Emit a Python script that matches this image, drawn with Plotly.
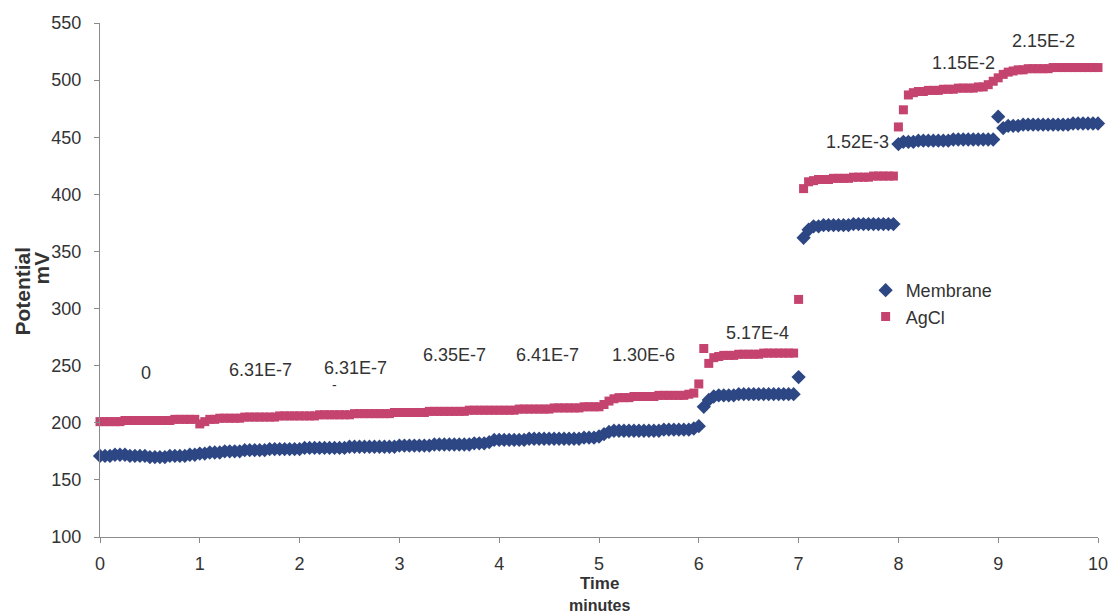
import plotly.graph_objects as go

# sampling grid: one reading every 0.05 min from 0 to 10 min
time_min = [round(i * 0.05, 2) for i in range(201)]

membrane_mv = [
    171, 171, 171, 172, 172, 172, 171, 171, 171, 171, 170, 170, 170, 170, 171, 171, 171, 171, 172, 172,
    173, 173, 174, 174, 174, 175, 175, 175, 175, 176, 176, 176, 176, 176, 177, 177, 177, 177, 177, 177,
    177, 178, 178, 178, 178, 178, 178, 178, 178, 178, 179, 179, 179, 179, 179, 179, 179, 179, 179, 179,
    180, 180, 180, 180, 180, 180, 180, 181, 181, 181, 181, 181, 181, 181, 181, 182, 182, 182, 183, 185,
    185, 185, 185, 185, 185, 185, 186, 186, 186, 186, 186, 186, 186, 186, 186, 186, 186, 187, 187, 187,
    188, 190, 192, 193, 193, 193, 193, 193, 193, 193, 193, 193, 193, 194, 194, 194, 194, 194, 194, 195,
    197, 214, 220, 223, 224, 224, 224, 224, 225, 225, 225, 225, 225, 225, 225, 225, 225, 225, 225, 225,
    240, 362, 369, 372, 372, 373, 373, 373, 373, 373, 373, 374, 374, 374, 374, 374, 374, 374, 374, 374,
    444, 446, 446, 446, 447, 447, 447, 447, 447, 447, 447, 448, 448, 448, 448, 448, 448, 448, 448, 448,
    468, 458, 460, 460, 460, 461, 461, 461, 461, 461, 461, 461, 461, 461, 461, 462, 462, 462, 462, 462,
    462,
]

agcl_mv = [
    201, 201, 201, 201, 201, 202, 202, 202, 202, 202, 202, 202, 202, 202, 202, 203, 203, 203, 203, 203,
    199, 201, 203, 203, 204, 204, 204, 204, 204, 205, 205, 205, 205, 205, 205, 205, 206, 206, 206, 206,
    206, 206, 206, 206, 207, 207, 207, 207, 207, 207, 207, 208, 208, 208, 208, 208, 208, 208, 208, 209,
    209, 209, 209, 209, 209, 209, 210, 210, 210, 210, 210, 210, 210, 210, 211, 211, 211, 211, 211, 211,
    211, 211, 211, 211, 212, 212, 212, 212, 212, 212, 212, 213, 213, 213, 213, 213, 213, 214, 214, 214,
    214, 216, 219, 221, 222, 222, 222, 223, 223, 223, 223, 223, 224, 224, 224, 224, 224, 224, 225, 226,
    234, 265, 252, 257, 258, 259, 259, 259, 260, 260, 260, 260, 260, 261, 261, 261, 261, 261, 261, 261,
    308, 405, 411, 412, 413, 413, 413, 414, 414, 414, 414, 415, 415, 415, 415, 416, 416, 416, 416, 416,
    459, 474, 487, 489, 490, 490, 491, 491, 491, 492, 492, 492, 493, 493, 493, 493, 494, 494, 496, 499,
    502, 505, 507, 508, 509, 509, 510, 510, 510, 510, 510, 511, 511, 511, 511, 511, 511, 511, 511, 511,
    511,
]

label_texts = ["0", "6.31E-7", "6.31E-7", "6.35E-7", "6.41E-7", "1.30E-6",
               "5.17E-4", "1.52E-3", "1.15E-2", "2.15E-2"]
label_x = [0.46, 1.61, 2.56, 3.55, 4.48, 5.45, 6.59, 7.59, 8.65, 9.45]
label_y = [244, 246, 248, 259, 259, 259, 279, 446, 515, 534]

x_ticks = list(range(0, 11))
y_ticks = list(range(100, 551, 50))

FONT = "Liberation Sans, Arial, sans-serif"
TXT = "#333333"
BLUE = "#2D4684"
PINK = "#C4436F"

fig = go.Figure()
fig.add_trace(go.Scatter(
    x=time_min, y=membrane_mv, name="Membrane", mode="markers",
    marker=dict(symbol="diamond", size=11, color=BLUE), cliponaxis=False))
fig.add_trace(go.Scatter(
    x=time_min, y=agcl_mv, name="AgCl", mode="markers",
    marker=dict(symbol="square", size=9, color=PINK), cliponaxis=False))

for t, xv, yv in zip(label_texts, label_x, label_y):
    fig.add_annotation(x=xv, y=yv, text=t, showarrow=False, xref="x", yref="y",
                       font=dict(family=FONT, size=18, color=TXT))
# small stray mark under the second 6.31E-7 label
fig.add_annotation(x=2.35, y=233, text="-", showarrow=False,
                   font=dict(family=FONT, size=14, color=TXT))

W, H = 1120, 616
L, R, T, B = 100, 15, 23, 79
pw, ph = W - L - R, H - T - B

def px_to_paper(px, py):
    return (px - L) / pw, (H - B - py) / ph

for txt, (px, py), size, ang in [("Potential", (22, 291), 21, -90),
                                 ("mV", (41, 268), 21, -90),
                                 ("Time", (603, 583), 17, 0),
                                 ("minutes", (603, 605), 16, 0)]:
    xp, yp = px_to_paper(px, py)
    fig.add_annotation(x=xp, y=yp, xref="paper", yref="paper", text=f"<b>{txt}</b>",
                       showarrow=False, textangle=ang, xanchor="center", yanchor="middle",
                       font=dict(family=FONT, size=size, color=TXT))

lx, ly = px_to_paper(871, 272)
fig.update_layout(
    width=W, height=H, margin=dict(l=L, r=R, t=T, b=B),
    paper_bgcolor="white", plot_bgcolor="white",
    showlegend=True,
    legend=dict(x=lx, y=ly, xanchor="left", yanchor="top",
                font=dict(family=FONT, size=18, color=TXT),
                bgcolor="rgba(0,0,0,0)", tracegroupgap=0),
    font=dict(family=FONT, size=18, color=TXT),
)
fig.update_xaxes(range=[0, 10], tickvals=x_ticks, showgrid=False, zeroline=False,
                 showline=True, linecolor="#8a8a8a", linewidth=1,
                 ticks="outside", ticklen=5, tickcolor="#8a8a8a",
                 ticklabelstandoff=5, tickfont=dict(family=FONT, size=18, color=TXT))
fig.update_yaxes(range=[100, 550], tickvals=y_ticks, showgrid=False, zeroline=False,
                 showline=True, linecolor="#8a8a8a", linewidth=1,
                 ticks="outside", ticklen=5, tickcolor="#8a8a8a",
                 ticklabelstandoff=9, tickfont=dict(family=FONT, size=18, color=TXT))

fig.write_html("out.html", config={"displayModeBar": False},
               post_script="document.body.style.margin='0';")
